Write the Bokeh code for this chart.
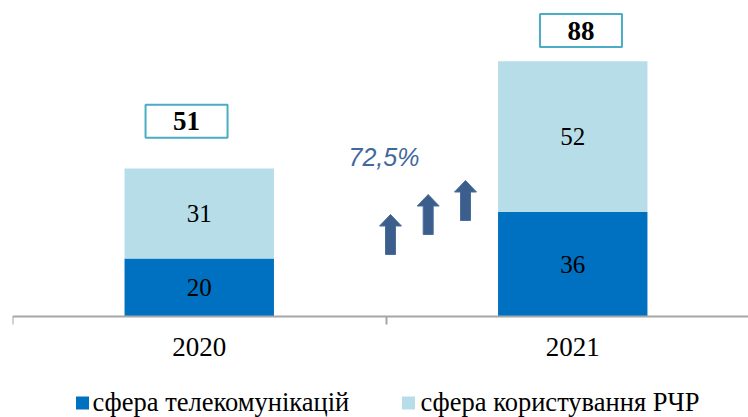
from bokeh.plotting import figure
from bokeh.models import ColumnDataSource, Range1d, FixedTicker
from bokeh.core.properties import value
from bokeh.embed import file_html
from bokeh.resources import INLINE

# ---- data ----
years = ["2020", "2021"]
telecom = [20, 36]          # сфера телекомунікацій
rchr = [31, 52]             # сфера користування РЧР
totals = [51, 88]
growth = "72,5%"
series_names = ["сфера телекомунікацій", "сфера користування РЧР"]
series_colors = ["#0070C0", "#B7DEE8"]

# ---- layout constants (pixel scale of the frame) ----
PX_X = 373.5   # px per category band
PX_Y = 2.9     # px per unit
FRAME_W = 736
TOP_PX = 308       # from axis line up to frame top
BOTTOM_PX = 101    # from axis line down to frame bottom
X0, Y0 = 12, 316   # page position of the data origin


def dx(px):
    return (px - X0) / PX_X


def dy(py):
    return (Y0 - py) / PX_Y


x_pos = [i + 0.5 for i in range(len(years))]
tel_mid = [t / 2 for t in telecom]
rchr_mid = [t + r / 2 for t, r in zip(telecom, rchr)]

src = ColumnDataSource(dict(x=x_pos, tel=telecom, rchr=rchr,
                            tel_lbl=[str(v) for v in telecom],
                            rchr_lbl=[str(v) for v in rchr],
                            tel_mid=tel_mid, rchr_mid=rchr_mid))

p = figure(frame_width=FRAME_W, frame_height=TOP_PX + BOTTOM_PX, output_backend="svg",
           toolbar_location=None,
           x_range=Range1d(0, FRAME_W / PX_X),
           y_range=Range1d(-BOTTOM_PX / PX_Y, TOP_PX / PX_Y),
           y_axis_location=None, min_border_left=12, min_border_right=0,
           min_border_top=8, min_border_bottom=0)
p.grid.visible = False
p.outline_line_color = None
p.background_fill_color = "white"

r_stack = p.vbar_stack(["tel", "rchr"], x="x", width=0.4, source=src,
                       color=series_colors, line_color=None)

# segment labels
for col, mid in (("tel_lbl", "tel_mid"), ("rchr_lbl", "rchr_mid")):
    p.text(x="x", y=mid, text=col, source=src, text_align="center",
           text_baseline="middle", text_font=value("Liberation Serif"),
           text_font_size="25px", text_color="black")

# total boxes
box_dx = [-0.034, 0.022]
box_y = [67.3, 98.6]
bsrc = ColumnDataSource(dict(x=[x + d for x, d in zip(x_pos, box_dx)], y=box_y,
                             t=[str(v) for v in totals]))
p.rect(x="x", y="y", width=82, height=33, width_units="screen", height_units="screen",
       source=bsrc, fill_color="white", line_color="#4BACC6", line_width=2)
p.text(x="x", y="y", text="t", source=bsrc, text_align="center", text_baseline="middle",
       text_font=value("Liberation Serif"), text_font_style="bold",
       text_font_size="27px", text_color="black")

# growth arrows (tip positions in page px)
tips_px = [(390, 214), (427.7, 194), (465, 180)]
H, HH, HW, SW = 40, 11.5, 11, 5
xs, ys = [], []
for tx, ty in tips_px:
    px = [tx, tx + HW, tx + SW, tx + SW, tx - SW, tx - SW, tx - HW]
    py = [ty, ty + HH, ty + HH, ty + H, ty + H, ty + HH, ty + HH]
    xs.append([dx(v) for v in px])
    ys.append([dy(v) for v in py])
p.patches(xs, ys, fill_color="#3B5E8C", line_color="#4A6F9C", line_width=1)

p.text(x=[dx(348)], y=[dy(156)], text=[growth], text_align="left",
       text_baseline="alphabetic", text_font=value("Liberation Sans"),
       text_font_style="italic", text_font_size="25px", text_color="#41689A")

# axis
ax = p.xaxis[0]
ax.fixed_location = 0
ax.ticker = FixedTicker(ticks=x_pos, minor_ticks=[0, 1, 2])
ax.major_label_overrides = {x: y for x, y in zip(x_pos, years)}
ax.major_tick_line_color = None
ax.major_tick_in = 0
ax.major_tick_out = 0
ax.minor_tick_in = 0
ax.minor_tick_out = 8
ax.minor_tick_line_color = "#A6A6A6"
ax.minor_tick_line_width = 2
ax.axis_line_color = "#A6A6A6"
ax.axis_line_width = 2
ax.major_label_standoff = 13
ax.major_label_text_font = "Liberation Serif"
ax.major_label_text_font_size = "27px"
ax.major_label_text_color = "black"

# legend (drawn with glyphs below the axis)
leg_sq_px = [82, 408]
leg_txt_px = [92, 420]
p.rect(x=[dx(v) for v in leg_sq_px], y=[dy(402.5)] * 2, width=13, height=13,
       width_units="screen", height_units="screen",
       fill_color=series_colors, line_color=None)
p.text(x=[dx(v) for v in leg_txt_px], y=[dy(401)] * 2, text=series_names,
       text_align="left", text_baseline="middle",
       text_font=value("Liberation Serif"), text_font_size="26.5px", text_color="black")

open("out.html", "w").write(file_html(p, INLINE))
